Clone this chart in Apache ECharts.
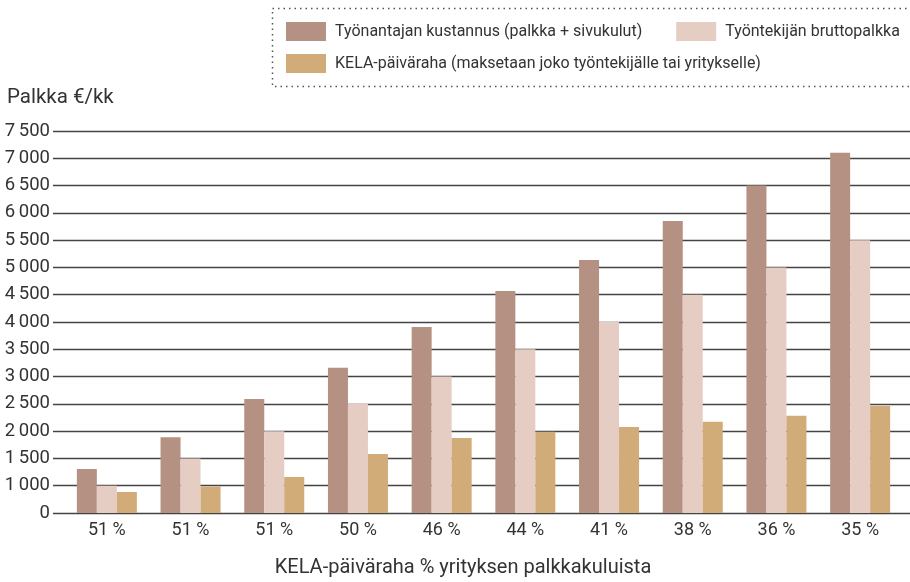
<!DOCTYPE html>
<html>
<head>
<meta charset="utf-8">
<script src="https://cdn.jsdelivr.net/npm/echarts@6/dist/echarts.min.js"></script>
<style>html,body{margin:0;padding:0;background:#fff;}#c{width:910px;height:582px;}</style>
</head>
<body>
<div id="c"></div>
<script>
var categories = ['51 %', '51 %', '51 %', '50 %', '46 %', '44 %', '41 %', '38 %', '36 %', '35 %'];
var seriesNames = ['Työnantajan kustannus (palkka + sivukulut)', 'Työntekijän bruttopalkka', 'KELA-päiväraha (maksetaan joko työntekijälle tai yritykselle)'];
var employerCost = [1305, 1890, 2590, 3160, 3910, 4570, 5135, 5850, 6500, 7100];
var grossSalary = [1000, 1500, 2000, 2500, 3000, 3500, 4000, 4500, 5000, 5500];
var kelaAllowance = [885, 985, 1160, 1580, 1875, 1990, 2075, 2170, 2280, 2460];
var yTicks = { min: 500, max: 7500, step: 500 };
var colors = ['#b59183', '#e5cdc3', '#d1ab78'];
var FONT = 'Roboto';

function fmt(v) {
  if (v === yTicks.min) return '0';
  var s = String(v);
  if (s.length > 3) s = s.slice(0, s.length - 3) + '\u2009' + s.slice(s.length - 3);
  return s;
}

var chart = echarts.init(document.getElementById('c'), null, { renderer: 'canvas' });
chart.setOption({
  animation: false,
  color: colors,
  textStyle: { fontFamily: FONT },
  title: [
    { text: 'Palkka €/kk', left: 2, top: 82, textStyle: { fontFamily: FONT, fontSize: 20.5, fontWeight: 'normal', color: '#333' } },
    { text: 'KELA-päiväraha % yrityksen palkkakuluista', left: 458, textAlign: 'center', top: 553, textStyle: { fontFamily: FONT, fontSize: 20, fontWeight: 'normal', color: '#333' } }
  ],
  legend: [
    { data: [seriesNames[0], seriesNames[1]], left: 281, top: 17, itemWidth: 40, itemHeight: 19, itemGap: 34, icon: 'rect', selectedMode: false,
      textStyle: { fontFamily: FONT, fontSize: 16, color: '#333', padding: [0, 0, 0, 4] } },
    { data: [seriesNames[2]], left: 281, top: 49, itemWidth: 40, itemHeight: 19, icon: 'rect', selectedMode: false,
      textStyle: { fontFamily: FONT, fontSize: 16, color: '#333', padding: [0, 0, 0, 4] } }
  ],
  graphic: [
    { type: 'rect', shape: { x: 272.5, y: 8.5, width: 700, height: 78 }, style: { fill: 'none', stroke: '#555', lineWidth: 1.5, lineDash: [1.5, 4] }, silent: true }
  ],
  grid: [
    { left: 53, right: 0, top: 131, bottom: 69 },
    { left: 65, right: 8, top: 131, bottom: 69 }
  ],
  xAxis: [
    { gridIndex: 0, type: 'value', show: false, min: 0, max: 1 },
    { gridIndex: 1, type: 'category', data: categories, boundaryGap: true,
      axisLine: { show: false }, axisTick: { show: false },
      axisLabel: { fontFamily: FONT, fontSize: 18, color: '#333', margin: 8 } }
  ],
  yAxis: [
    { gridIndex: 0, type: 'value', min: yTicks.min, max: yTicks.max, interval: yTicks.step,
      axisLine: { show: false }, axisTick: { show: false },
      axisLabel: { fontFamily: FONT, fontSize: 18.5, color: '#333', margin: 3, formatter: fmt },
      splitLine: { show: true, lineStyle: { color: '#444', width: 1.3 } } },
    { gridIndex: 1, type: 'value', min: yTicks.min, max: yTicks.max, interval: yTicks.step, show: false, splitLine: { show: false } }
  ],
  series: [
    { name: seriesNames[0], type: 'bar', xAxisIndex: 1, yAxisIndex: 1, data: employerCost, barWidth: 20, barGap: '0%', itemStyle: { color: colors[0] } },
    { name: seriesNames[1], type: 'bar', xAxisIndex: 1, yAxisIndex: 1, data: grossSalary, barWidth: 20, barGap: '0%', itemStyle: { color: colors[1] } },
    { name: seriesNames[2], type: 'bar', xAxisIndex: 1, yAxisIndex: 1, data: kelaAllowance, barWidth: 20, barGap: '0%', itemStyle: { color: colors[2] } }
  ]
});
</script>
</body>
</html>
